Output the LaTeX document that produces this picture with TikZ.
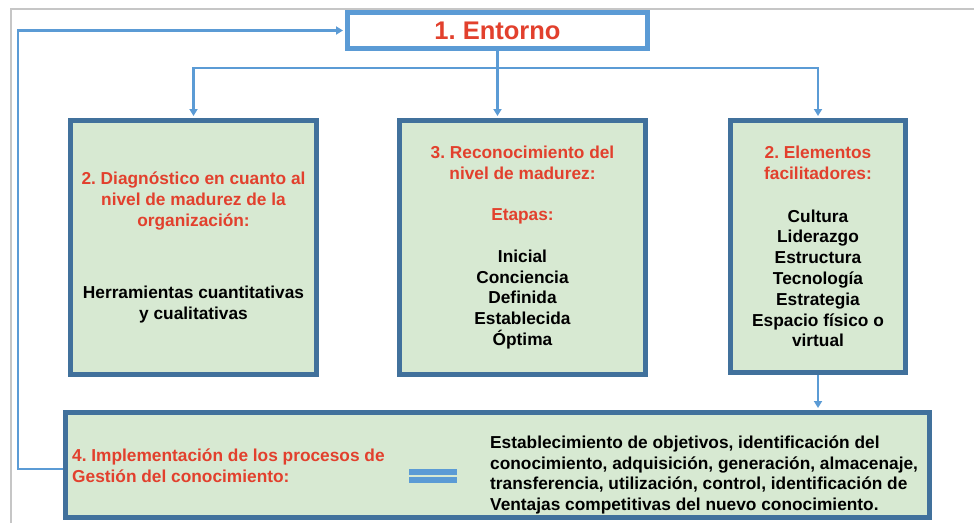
\documentclass[tikz,border=0pt]{standalone}
\usepackage{fontspec}
\setmainfont{Liberation Sans}
\usepackage{tikz}
\usetikzlibrary{arrows.meta}
\definecolor{rojo}{HTML}{E2402D}
\definecolor{verde}{HTML}{D7E9D2}
\definecolor{borde}{HTML}{41719C}
\definecolor{azul}{HTML}{5B9BD5}
\newcommand{\letra}{\fontsize{17.3}{20.8}\selectfont\bfseries\frenchspacing}
\newcommand{\rojo}[1]{\textcolor{rojo}{#1}}
\tikzset{
	caja/.style={draw=borde, fill=verde, line width=5pt, inner sep=0pt, align=center, font=\letra},
	conector/.style={draw=azul, line width=2.5pt, shorten >=2pt, -{Triangle[length=7pt,width=8pt]}},
	texto/.style={font=\letra, align=left, anchor=west, inner sep=0pt}
}

\begin{document}
\begin{tikzpicture}[x=1pt,y=-1pt]
			\useasboundingbox (0,0) rectangle (974,523);
			\draw[gray!45, line width=1.2pt] (11,523) -- (11,9) -- (974,9);
			\node[draw=azul, fill=white, line width=5pt, minimum width=300pt, minimum height=36pt, inner sep=0pt, text=rojo, font=\fontsize{25.5}{30}\selectfont\bfseries\frenchspacing] (entorno) at (497.5,30.5) {1. Entorno};
			\node[caja, minimum width=246pt, minimum height=254pt] (diag) at (193.5,247.5) {\rojo{2. Diagnóstico en cuanto al}\\ \rojo{nivel de madurez de la}\\ \rojo{organización:}\\[51.2pt] Herramientas cuantitativas\\ y cualitativas};
			\node[caja, minimum width=246pt, minimum height=254pt] (reco) at (522.5,247.5) {\rojo{3. Reconocimiento del}\\ \rojo{nivel de madurez:}\\[20.8pt] \rojo{Etapas:}\\[20.8pt] Inicial\\ Conciencia\\ Definida\\ Establecida\\ Óptima};
			\node[caja, minimum width=175pt, minimum height=252pt] (elem) at (818,246.5) {\rojo{2. Elementos}\\ \rojo{facilitadores:}\\[22pt] Cultura\\ Liderazgo\\ Estructura\\ Tecnología\\ Estrategia\\ Espacio físico o\\ virtual};
			\node[caja, minimum width=864pt, minimum height=105pt] (impl) at (497.5,465) {};
			\node[texto] (impltxt) at (72,466) {\rojo{4. Implementación de los procesos de}\\\rojo{Gestión del conocimiento:}};
			\node[texto] (procesos) at (490,475) {Establecimiento de objetivos, identificación del\\conocimiento, adquisición, generación, almacenaje,\\transferencia, utilización, control, identificación de\\Ventajas competitivas del nuevo conocimiento.};
			\fill[azul] (409,469) rectangle (457,475);
			\fill[azul] (409,477) rectangle (457,483);
			\coordinate (rama) at (497.5,68);
			\draw[conector] (rama) -| (diag.north);
			\draw[conector] (rama) -| (elem.north);
			\draw[conector] (entorno.south) -- (entorno.south |- reco.north);
			\draw[conector] (elem.south) -- (elem.south |- impl.north);
			\draw[conector] ([yshift=-4pt]impl.west) -- ++(-45,0) |- (entorno.west);
		\end{tikzpicture}
\end{document}
